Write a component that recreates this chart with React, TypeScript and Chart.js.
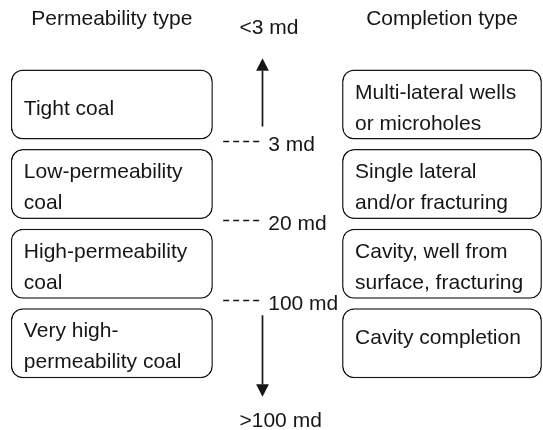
import React, { useEffect, useRef } from "react";
import { Chart, registerables } from "chart.js";

Chart.register(...registerables);

// ---- Diagram content ----
const headers = ["Permeability type", "Completion type"];
const permeabilityTypes: string[][] = [
  ["Tight coal"],
  ["Low-permeability", "coal"],
  ["High-permeability", "coal"],
  ["Very high-", "permeability coal"],
];
const completionTypes: string[][] = [
  ["Multi-lateral wells", "or microholes"],
  ["Single lateral", "and/or fracturing"],
  ["Cavity, well from", "surface, fracturing"],
  ["Cavity completion"],
];
const thresholds = ["3 md", "20 md", "100 md"];
const rangeEnds = ["<3 md", ">100 md"];

// ---- Layout (diagram width scale 0..100) ----
const leftColumn: [number, number] = [2, 39.2];
const rightColumn: [number, number] = [63, 99.8];
const arrowX = 48.3;
const dashFrom = 41.1;
const dashTo = 47.9;
const thresholdLabelX = 49.4;

const INK = "#161616";
const FONT = '21px "Liberation Sans", Arial, Helvetica, sans-serif';

const rows = permeabilityTypes.map((l) => l.join(" "));
const boxTexts = [permeabilityTypes, completionTypes];
const singleLineOffset = [10, 1];

const diagramPlugin = {
  id: "diagram",
  afterDatasetsDraw(chart: any) {
    const ctx = chart.ctx as CanvasRenderingContext2D;
    const xs = chart.scales.x;
    const ys = chart.scales.y;
    const area = chart.chartArea;
    ctx.save();
    ctx.fillStyle = INK;
    ctx.strokeStyle = INK;
    ctx.font = FONT;
    ctx.textBaseline = "alphabetic";

    // box texts
    ctx.textAlign = "left";
    [0, 1].forEach((di) => {
      const meta = chart.getDatasetMeta(di);
      meta.data.forEach((bar: any, i: number) => {
        const p = bar.getProps(["x", "base", "y"], true);
        const left = Math.min(p.x, p.base);
        const lines = boxTexts[di][i];
        const first = lines.length === 1 ? singleLineOffset[di] : -6;
        lines.forEach((t, k) => ctx.fillText(t, left + 13, p.y + first + k * 31));
      });
    });

    // headers
    ctx.textAlign = "center";
    const lc = xs.getPixelForValue((leftColumn[0] + leftColumn[1]) / 2);
    const rc = xs.getPixelForValue((rightColumn[0] + rightColumn[1]) / 2);
    ctx.fillText(headers[0], lc, area.top - 40);
    ctx.fillText(headers[1], rc, area.top - 40);

    // arrows
    const ax = Math.round(xs.getPixelForValue(arrowX)) + 0.5;
    const headW = 6.4;
    const headH = 12.4;
    ctx.lineWidth = 1.7;
    // up arrow
    const upTip = area.top - 6.4;
    ctx.beginPath();
    ctx.moveTo(ax, ys.getPixelForValue(0) + 22);
    ctx.lineTo(ax, upTip + headH);
    ctx.stroke();
    ctx.beginPath();
    ctx.moveTo(ax, upTip);
    ctx.lineTo(ax - headW, upTip + headH);
    ctx.lineTo(ax + headW, upTip + headH);
    ctx.closePath();
    ctx.fill();
    // down arrow
    const downTip = area.bottom + 13.6;
    ctx.beginPath();
    ctx.moveTo(ax, ys.getPixelForValue(rows.length - 1) - 28);
    ctx.lineTo(ax, downTip - headH);
    ctx.stroke();
    ctx.beginPath();
    ctx.moveTo(ax, downTip);
    ctx.lineTo(ax - headW, downTip - headH);
    ctx.lineTo(ax + headW, downTip - headH);
    ctx.closePath();
    ctx.fill();

    ctx.textAlign = "left";
    ctx.fillText(rangeEnds[0], ax - 23, area.top - 30.4);
    ctx.fillText(rangeEnds[1], ax - 23, area.bottom + 43.6);

    // thresholds
    const leftMeta = chart.getDatasetMeta(0);
    ctx.lineWidth = 1.3;
    thresholds.forEach((t, i) => {
      const bar = leftMeta.data[i];
      const p = bar.getProps(["y", "height"], true);
      const dy = Math.round(p.y + p.height / 2 + 1) + 0.5;
      ctx.save();
      ctx.setLineDash([6, 4]);
      ctx.beginPath();
      ctx.moveTo(xs.getPixelForValue(dashFrom), dy);
      ctx.lineTo(xs.getPixelForValue(dashTo), dy);
      ctx.stroke();
      ctx.restore();
      ctx.fillText(t, xs.getPixelForValue(thresholdLabelX), dy + 9);
    });

    ctx.restore();
  },
};

export default function App() {
  const ref = useRef<HTMLCanvasElement | null>(null);
  useEffect(() => {
    if (!ref.current) return;
    const boxStyle = {
      backgroundColor: "#ffffff",
      borderColor: INK,
      borderWidth: 1.5,
      borderRadius: 12,
      borderSkipped: false as const,
      inflateAmount: 0,
      grouped: false,
      categoryPercentage: 1,
      barPercentage: 0.88,
    };
    const chart = new Chart(ref.current, {
      type: "bar",
      data: {
        labels: rows,
        datasets: [
          { label: headers[0], data: rows.map(() => leftColumn), ...boxStyle },
          { label: headers[1], data: rows.map(() => rightColumn), ...boxStyle },
        ] as any,
      },
      options: {
        indexAxis: "y",
        responsive: false,
        animation: false,
        events: [],
        layout: { padding: { top: 64.7, bottom: 46.9, left: 0, right: 0 } },
        plugins: { legend: { display: false }, tooltip: { enabled: false } },
        scales: {
          x: { type: "linear", min: 0, max: 100, display: false },
          y: { type: "category", display: false, offset: true },
        },
      },
      plugins: [diagramPlugin],
    });
    return () => chart.destroy();
  }, []);
  return (
    <div style={{ position: "absolute", left: 0, top: 0, width: 543, height: 430, background: "#fff" }}>
      <canvas ref={ref} width={543} height={430} />
    </div>
  );
}
